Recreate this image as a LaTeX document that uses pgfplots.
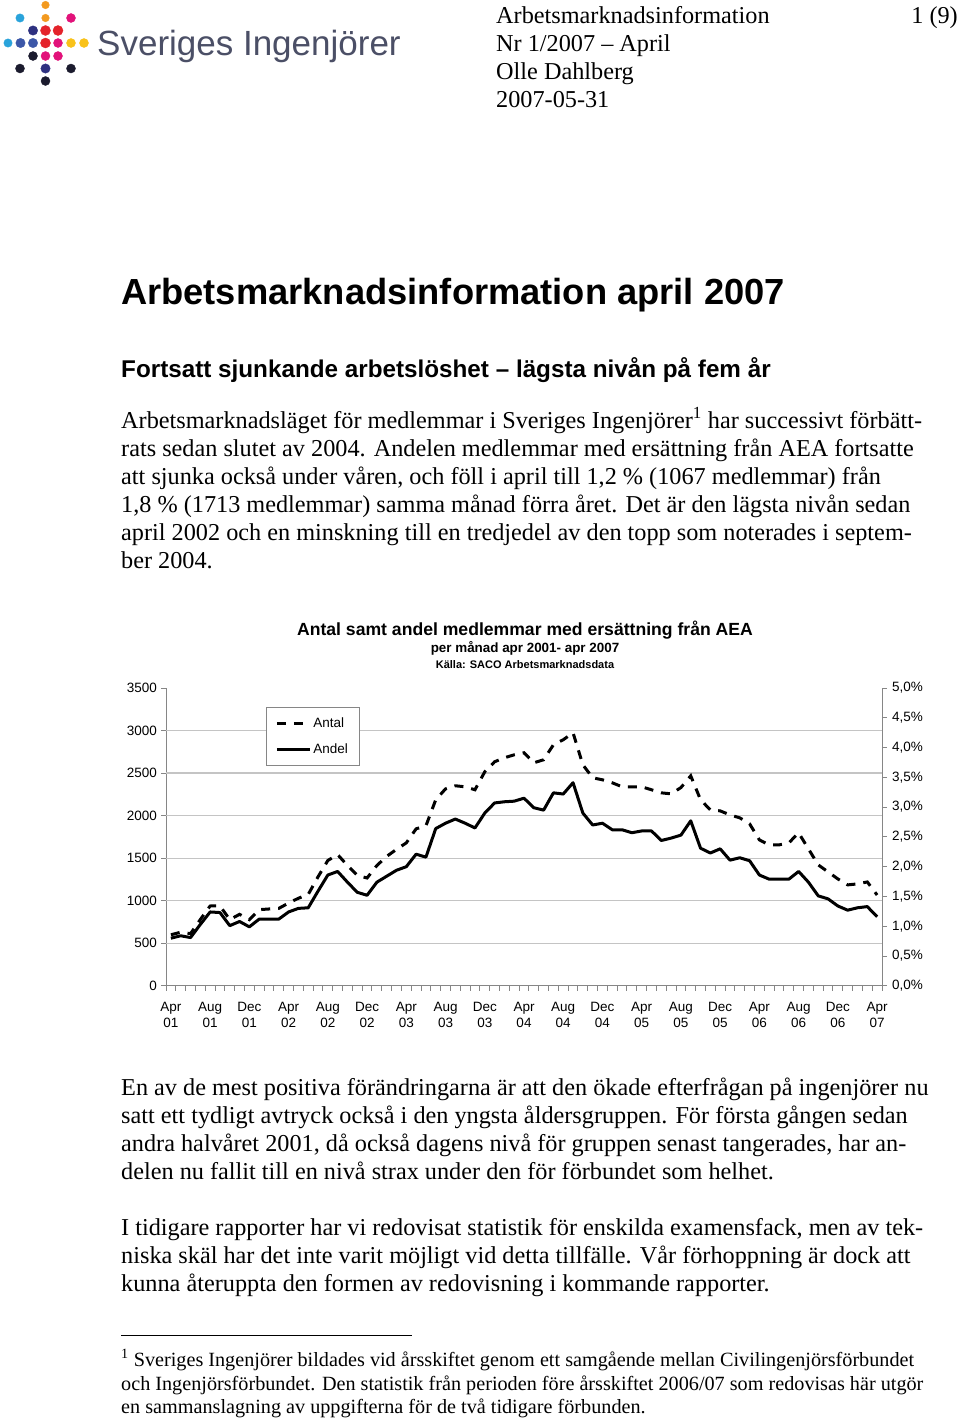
\documentclass[border=0pt]{standalone}
\usepackage{fontspec}
\setmainfont{Liberation Serif}
\setsansfont{Liberation Sans}
\usepackage{pgfplots}
\usepackage{pgfplotstable}
\pgfplotsset{compat=1.18}
\definecolor{axgray}{HTML}{868686}
\definecolor{gridgray}{HTML}{C4C4C4}
\definecolor{logocyan}{HTML}{29A3DB}
\definecolor{logoblue}{HTML}{3C57A8}
\definecolor{logonavy}{HTML}{2E3180}
\definecolor{logored}{HTML}{E4232B}
\definecolor{logomag}{HTML}{E2127A}
\definecolor{logoorange}{HTML}{F39A1F}
\definecolor{logoyellow}{HTML}{F9C21A}
\definecolor{logoblack}{HTML}{1B1B2E}
\definecolor{logotext}{HTML}{4B4F66}

\pgfplotstableread{
i antal andel
0 600 0.80
1 630 0.84
2 613 0.81
3 779 1.03
4 938 1.24
5 939 1.23
6 778 1.01
7 840 1.08
8 777 0.99
9 895 1.12
10 903 1.12
11 910 1.12
12 973 1.24
13 1029 1.30
14 1074 1.31
15 1281 1.59
16 1473 1.86
17 1542 1.92
18 1414 1.74
19 1298 1.57
20 1267 1.52
21 1414 1.74
22 1521 1.84
23 1604 1.94
24 1680 2.00
25 1845 2.21
26 1880 2.16
27 2186 2.64
28 2315 2.73
29 2351 2.80
30 2339 2.73
31 2304 2.65
32 2515 2.90
33 2633 3.07
34 2680 3.09
35 2715 3.10
36 2739 3.15
37 2621 2.99
38 2657 2.95
39 2833 3.24
40 2892 3.22
41 2974 3.41
42 2598 2.90
43 2445 2.70
44 2421 2.73
45 2386 2.62
46 2339 2.62
47 2339 2.57
48 2339 2.60
49 2304 2.60
50 2268 2.44
51 2256 2.48
52 2330 2.53
53 2468 2.77
54 2186 2.31
55 2068 2.23
56 2056 2.30
57 2009 2.11
58 1974 2.15
59 1904 2.10
60 1715 1.86
61 1656 1.79
62 1656 1.79
63 1680 1.79
64 1798 1.92
65 1609 1.74
66 1421 1.51
67 1339 1.46
68 1256 1.34
69 1186 1.27
70 1198 1.31
71 1221 1.33
72 1067 1.16
}\aeadata

\tikzset{
  body/.style={anchor=base west, inner sep=0pt, font=\fontsize{24.25}{28}\selectfont},
  foot/.style={anchor=base west, inner sep=0pt, font=\fontsize{20.2}{23}\selectfont},
}

\begin{document}
\begin{tikzpicture}
\path[use as bounding box, fill=white] (0pt,0pt) rectangle (960pt,-1418pt);

% ---------- logo dots ----------
\begin{axis}[
  at={(0pt,0pt)}, anchor=north west,
  width=92pt, height=86pt, scale only axis,
  xmin=0, xmax=92, ymin=-86, ymax=0,
  hide axis, clip=false,
]
\addplot[only marks, mark=*, mark size=3.8pt, logoorange] coordinates {(45.5,-5) (45.5,-18)};
\addplot[only marks, mark=*, mark size=4.2pt, logocyan] coordinates {(20,-18) (8,-43)};
\addplot[only marks, mark=*, mark size=4.5pt, logomag] coordinates {(71,-18) (58,-43) (45.5,-56) (58,-56)};
\addplot[only marks, mark=*, mark size=5pt, logored] coordinates {(45.5,-30.5) (58,-30.5) (45.5,-43)};
\addplot[only marks, mark=*, mark size=4.7pt, logoblue] coordinates {(20.5,-43) (33,-43)};
\addplot[only marks, mark=*, mark size=4.7pt, logonavy] coordinates {(33,-30.5) (45.5,-68.5)};
\addplot[only marks, mark=*, mark size=4.5pt, logoyellow] coordinates {(71,-43) (84,-43)};
\addplot[only marks, mark=*, mark size=4.5pt, logoblack] coordinates {(33,-56) (20,-68.5) (71,-68.5) (45.5,-81)};
\end{axis}

\node[anchor=base west, inner sep=0pt, text=logotext, font=\fontsize{35}{40}\selectfont\sffamily] at (97pt,-56pt) {Sveriges Ingenjörer};

% ---------- header ----------
\node[body] at (496pt,-23.5pt) {Arbetsmarknadsinformation};
\node[body] at (496pt,-51.5pt) {Nr 1/2007 – April};
\node[body] at (496pt,-79.5pt) {Olle Dahlberg};
\node[body] at (496pt,-107.5pt) {2007-05-31};
\node[anchor=base east, inner sep=0pt, font=\fontsize{24.25}{28}\selectfont] at (958pt,-23.5pt) {1 (9)};

% ---------- titles ----------
\node[anchor=base west, inner sep=0pt, font=\fontsize{36.3}{40}\selectfont\sffamily\bfseries] at (121pt,-304pt) {Arbetsmarknadsinformation april 2007};
\node[anchor=base west, inner sep=0pt, font=\fontsize{24.25}{28}\selectfont\sffamily\bfseries] at (121pt,-377pt) {Fortsatt sjunkande arbetslöshet – lägsta nivån på fem år};

% ---------- paragraph 1 ----------
\node[body] at (121pt,-428pt) {Arbetsmarknadsläget för medlemmar i Sveriges Ingenjörer\textsuperscript{1} har successivt förbätt-};
\node[body] at (121pt,-456pt) {rats sedan slutet av 2004. Andelen medlemmar med ersättning från AEA fortsatte};
\node[body] at (121pt,-484pt) {att sjunka också under våren, och föll i april till 1,2 \% (1067 medlemmar) från};
\node[body] at (121pt,-512pt) {1,8 \% (1713 medlemmar) samma månad förra året. Det är den lägsta nivån sedan};
\node[body] at (121pt,-540pt) {april 2002 och en minskning till en tredjedel av den topp som noterades i septem-};
\node[body] at (121pt,-568pt) {ber 2004.};

% ---------- chart titles ----------
\node[anchor=base, inner sep=0pt, font=\fontsize{17.6}{20}\selectfont\sffamily\bfseries] at (525pt,-635pt) {Antal samt andel medlemmar med ersättning från AEA};
\node[anchor=base, inner sep=0pt, font=\fontsize{13.4}{15}\selectfont\sffamily\bfseries] at (525pt,-652.5pt) {per månad apr 2001- apr 2007};
\node[anchor=base, inner sep=0pt, font=\fontsize{11}{13}\selectfont\sffamily\bfseries] at (525pt,-668pt) {Källa: SACO Arbetsmarknadsdata};

% ---------- chart: left axis (Antal) ----------
\begin{axis}[
  at={(166pt,-985.8pt)}, anchor=south west,
  width=716pt, height=297.8pt, scale only axis,
  xmin=-0.5, xmax=72.5, ymin=0, ymax=3500,
  axis x line*=bottom, axis y line*=left,
  axis line style={axgray, line width=1pt, -},
  tick align=outside,
  major tick length=5pt, minor tick length=5pt,
  tick style={axgray, line width=1pt},
  xtick={0,4,...,72},
  xticklabels={Apr\\01,Aug\\01,Dec\\01,Apr\\02,Aug\\02,Dec\\02,Apr\\03,Aug\\03,Dec\\03,Apr\\04,Aug\\04,Dec\\04,Apr\\05,Aug\\05,Dec\\05,Apr\\06,Aug\\06,Dec\\06,Apr\\07},
  minor xtick={-0.5,0.5,...,72.5},
  major x tick style={draw=none},
  ytick={0,500,...,3500},
  extra y ticks={500,1000,...,3000},
  extra y tick labels={},
  extra y tick style={grid=major},
  major grid style={gridgray, line width=1.3pt},
  /pgf/number format/1000 sep={},
  /pgf/number format/assume math mode=true,
  tick label style={font=\fontsize{13.5}{16}\selectfont\sffamily},
  xticklabel style={align=center, inner sep=0pt, yshift=-11pt},
  yticklabel style={inner sep=0pt, xshift=-4pt},
]
\addplot[black, line width=3pt, dash pattern=on 9pt off 8pt] table[x=i, y=antal] {\aeadata};
\end{axis}

% ---------- chart: right axis (Andel) ----------
\begin{axis}[
  at={(166pt,-985.8pt)}, anchor=south west,
  width=716pt, height=297.8pt, scale only axis,
  xmin=-0.5, xmax=72.5, ymin=0, ymax=5,
  axis x line=none, axis y line*=right,
  axis line style={axgray, line width=1pt, -},
  tick align=outside,
  major tick length=5pt,
  tick style={axgray, line width=1pt},
  ytick={0,0.5,...,5},
  yticklabels={{0,0\%},{0,5\%},{1,0\%},{1,5\%},{2,0\%},{2,5\%},{3,0\%},{3,5\%},{4,0\%},{4,5\%},{5,0\%}},
  /pgf/number format/assume math mode=true,
  tick label style={font=\fontsize{13.5}{16}\selectfont\sffamily},
  yticklabel style={inner sep=0pt, xshift=5pt},
  legend style={at={(0.1397,0.936)}, anchor=north west, draw=axgray, line width=0.8pt, fill=white,
    font=\fontsize{13.5}{16}\selectfont\sffamily, inner xsep=9pt, inner ysep=8pt, row sep=11pt,
    nodes={inner sep=2pt, text=black}},
  legend cell align=left,
  legend image code/.code={\draw[#1] (0pt,0pt) -- (33pt,0pt);},
]
\addlegendimage{black, line width=3pt, dash pattern=on 9pt off 8pt}
\addlegendentry{Antal}
\addplot[black, line width=3pt, line join=round] table[x=i, y=andel] {\aeadata};
\addlegendentry{Andel}
\end{axis}

% ---------- paragraph 2 ----------
\node[body] at (121pt,-1095pt) {En av de mest positiva förändringarna är att den ökade efterfrågan på ingenjörer nu};
\node[body] at (121pt,-1123pt) {satt ett tydligt avtryck också i den yngsta åldersgruppen. För första gången sedan};
\node[body] at (121pt,-1151pt) {andra halvåret 2001, då också dagens nivå för gruppen senast tangerades, har an-};
\node[body] at (121pt,-1179pt) {delen nu fallit till en nivå strax under den för förbundet som helhet.};

% ---------- paragraph 3 ----------
\node[body] at (121pt,-1235pt) {I tidigare rapporter har vi redovisat statistik för enskilda examensfack, men av tek-};
\node[body] at (121pt,-1263pt) {niska skäl har det inte varit möjligt vid detta tillfälle. Vår förhoppning är dock att};
\node[body] at (121pt,-1291pt) {kunna återuppta den formen av redovisning i kommande rapporter.};

% ---------- footnote ----------
\draw[black, line width=1pt] (121pt,-1335pt) -- (412pt,-1335pt);
\node[foot] at (121pt,-1366pt) {\textsuperscript{1} Sveriges Ingenjörer bildades vid årsskiftet genom ett samgående mellan Civilingenjörsförbundet};
\node[foot] at (121pt,-1390pt) {och Ingenjörsförbundet. Den statistik från perioden före årsskiftet 2006/07 som redovisas här utgör};
\node[foot] at (121pt,-1413pt) {en sammanslagning av uppgifterna för de två tidigare förbunden.};
\end{tikzpicture}
\end{document}
